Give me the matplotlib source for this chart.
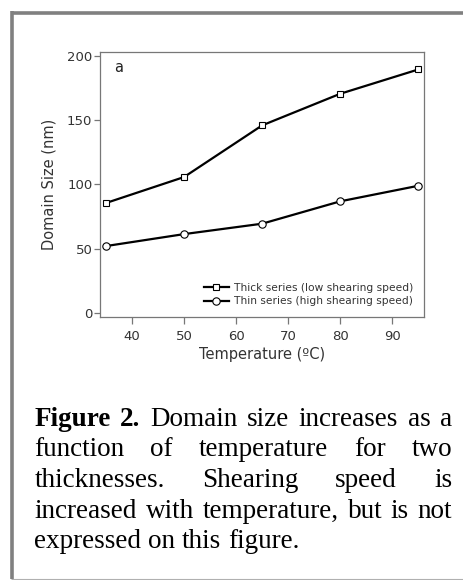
import matplotlib
matplotlib.use("Agg")
import matplotlib.pyplot as plt
from matplotlib.lines import Line2D

# data
temperature = [35, 50, 65, 80, 95]
thick_size = [85.4, 105.6, 145.8, 170.4, 189.3]
thin_size = [51.9, 61.2, 69.3, 86.7, 98.8]
thick_label = "Thick series (low shearing speed)"
thin_label = "Thin series (high shearing speed)"
x_ticks = [40, 50, 60, 70, 80, 90]
y_ticks = [0, 50, 100, 150, 200]

caption_lines = [
    [("Figure", True), ("2.", True), ("Domain", False), ("size", False), ("increases", False), ("as", False), ("a", False)],
    [("function", False), ("of", False), ("temperature", False), ("for", False), ("two", False)],
    [("thicknesses.", False), ("Shearing", False), ("speed", False), ("is", False)],
    [("increased", False), ("with", False), ("temperature,", False), ("but", False), ("is", False), ("not", False)],
    [("expressed", False), ("on", False), ("this", False), ("figure.", False)],
]

W, H = 464, 580
fig = plt.figure(figsize=(W / 100, H / 100), dpi=100)

def px(x, y):
    # pixel coords (from top-left) -> figure fraction
    return x / W, 1 - y / H

# outer frame
fig.add_artist(Line2D([12.5 / W, 12.5 / W], [px(0, 11.2)[1], px(0, 579)[1]], color="#808080", lw=2.6, solid_capstyle="butt"))
fig.add_artist(Line2D([11.2 / W, 1], [px(0, 13)[1], px(0, 13)[1]], color="#808080", lw=2.6, solid_capstyle="butt"))
fig.add_artist(Line2D([11 / W, 1], [px(0, 579)[1], px(0, 579)[1]], color="#b0b0b0", lw=0.8, solid_capstyle="butt"))

ax = fig.add_axes([100 / W, 1 - 317 / H, 324 / W, 265 / H])
ax.plot(temperature, thick_size, "-s", color="black", lw=1.6, ms=4.8, mfc="white", mec="black", mew=0.8, label=thick_label)
ax.plot(temperature, thin_size, "-o", color="black", lw=1.6, ms=5.3, mfc="white", mec="black", mew=0.8, label=thin_label)

ax.set_xlim(33.85, 96.1)
ax.set_ylim(-3.3, 202.9)
ax.set_xticks(x_ticks)
ax.set_yticks(y_ticks)
for s in ax.spines.values():
    s.set_color("#777777")
    s.set_linewidth(0.9)
ax.tick_params(axis="both", direction="out", color="#777777", width=0.9, labelcolor="#333333", labelsize=9.5)
ax.tick_params(axis="y", length=4, pad=1.5)
ax.tick_params(axis="x", length=5, pad=4.5)

ax.set_xlabel("Temperature (ºC)", fontsize=10.5, color="#333333")
ax.set_ylabel("Domain Size (nm)", fontsize=10.5, color="#333333")
ax.xaxis.set_label_coords(0.5, -0.14)
ax.xaxis.label.set_va("center")
ax.yaxis.set_label_coords(-0.157, 0.502)
ax.yaxis.label.set_va("center")

ax.text(0.045, 0.94, "a", transform=ax.transAxes, fontsize=10.5, color="#222222", va="center")

ax.legend(loc="lower right", frameon=False, fontsize=7.7, handlelength=2.3, handletextpad=0.5,
          labelspacing=0.3, borderaxespad=0.6, labelcolor="#333333")

# justified caption, placed word by word
cap_font = dict(family="Liberation Serif", fontsize=19.5, color="black")
left, right = 34.3, 452.3
baselines = [425.7, 456.4, 487.1, 517.8, 548.5]
renderer = fig.canvas.get_renderer()
for i, words in enumerate(caption_lines):
    texts = []
    for w, bold in words:
        t = fig.text(0, px(0, baselines[i])[1], w, va="baseline", ha="left",
                     fontweight="bold" if bold else "normal", **cap_font)
        texts.append(t)
    widths = [t.get_window_extent(renderer).width for t in texts]
    if i < len(caption_lines) - 1:
        gap = (right - left - sum(widths)) / (len(texts) - 1)
    else:
        sp = fig.text(0, 0, "a a", **cap_font)
        a1 = fig.text(0, 0, "aa", **cap_font)
        gap = sp.get_window_extent(renderer).width - a1.get_window_extent(renderer).width
        sp.remove()
        a1.remove()
    x = left
    for t, w in zip(texts, widths):
        t.set_x(x / W)
        x += w + gap

fig.savefig("out.png", dpi=100)
